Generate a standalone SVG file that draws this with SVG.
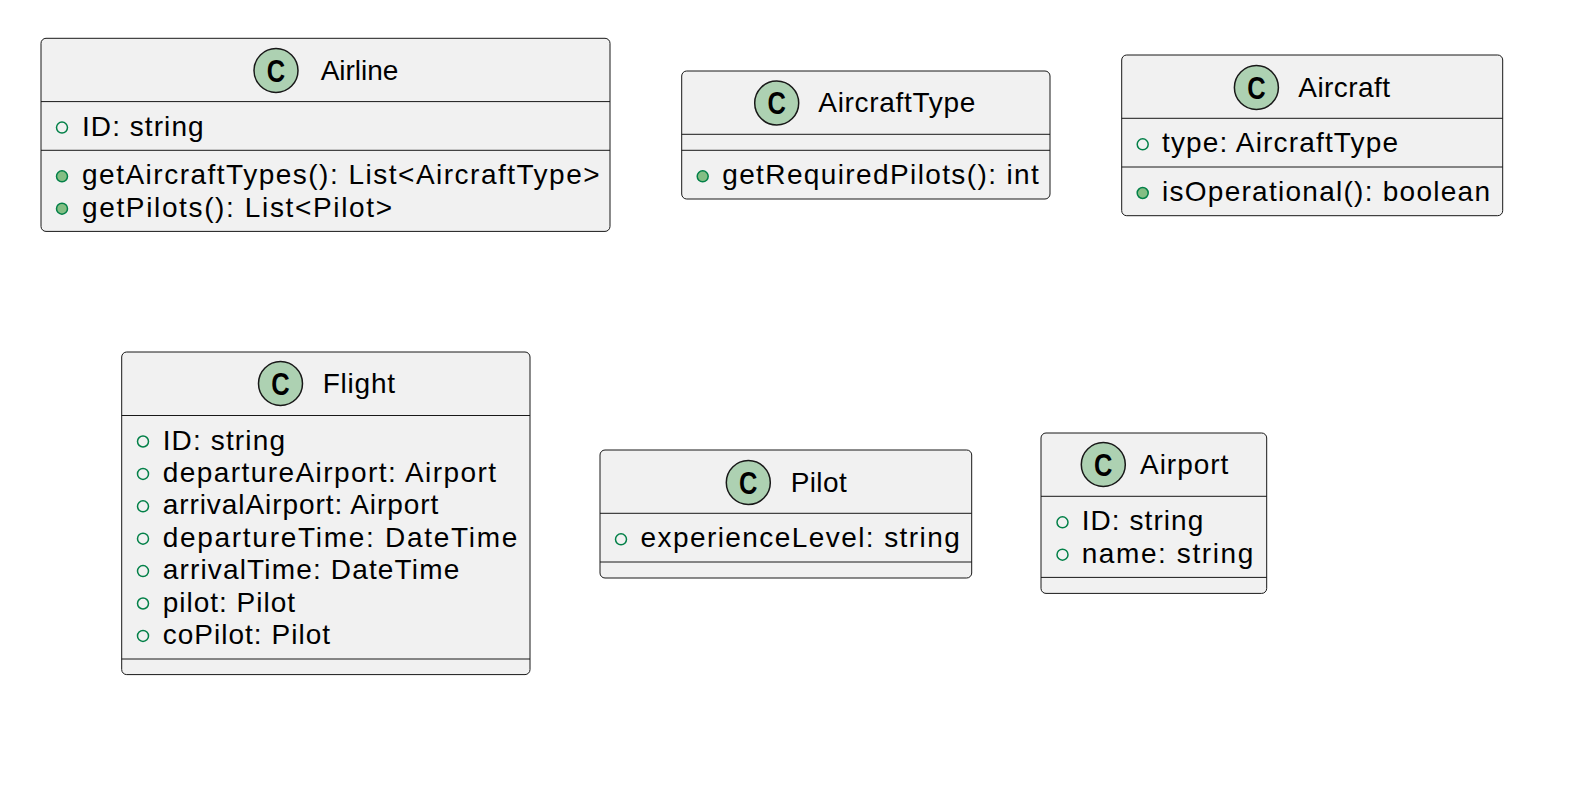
<svg xmlns="http://www.w3.org/2000/svg" width="1582" height="804" viewBox="0 0 1582 804">
<style>
.box{fill:#F1F1F1;stroke:#181818;stroke-width:1}
.div{stroke:#181818;stroke-width:1}
.spot{fill:#ADD1B2;stroke:#181818;stroke-width:1.5}
.C{font-family:"Liberation Sans",Arial,sans-serif;font-weight:bold;font-size:31px;fill:#000}
.t{font-family:"Liberation Sans",Arial,sans-serif;font-size:28px;fill:#000}
.fld{fill:none;stroke:#038048;stroke-width:1.5}
.mth{fill:#84BE84;stroke:#038048;stroke-width:1.5}
</style>
<rect width="1582" height="804" fill="#FFFFFF"/>
<g id="connectors"/>

<g id="Airline">
<rect class="box" x="41" y="38.3" width="569" height="193.1" rx="5"/>
<line class="div" x1="41" y1="101.6" x2="610" y2="101.6"/>
<line class="div" x1="41" y1="150.3" x2="610" y2="150.3"/>
<circle class="spot" cx="276" cy="70.5" r="22"/>
<text class="C" x="266.8" y="81.6" textLength="18.4" lengthAdjust="spacingAndGlyphs">C</text>
<text class="t" x="320.7" y="79.7" textLength="77.6" lengthAdjust="spacing">Airline</text>
<circle class="fld" cx="62" cy="127.6" r="5.5"/>
<text class="t" x="82" y="135.6" textLength="121.6" lengthAdjust="spacing">ID: string</text>
<circle class="mth" cx="62" cy="176.3" r="5.5"/>
<text class="t" x="82" y="184.3" textLength="517.6" lengthAdjust="spacing">getAircraftTypes(): List&lt;AircraftType&gt;</text>
<circle class="mth" cx="62" cy="208.7" r="5.5"/>
<text class="t" x="82" y="216.7" textLength="310" lengthAdjust="spacing">getPilots(): List&lt;Pilot&gt;</text>
</g>

<g id="AircraftType">
<rect class="box" x="681.7" y="71" width="368.3" height="128" rx="5"/>
<line class="div" x1="681.7" y1="134.3" x2="1050" y2="134.3"/>
<line class="div" x1="681.7" y1="150.3" x2="1050" y2="150.3"/>
<circle class="spot" cx="776.7" cy="103" r="22"/>
<text class="C" x="767.5" y="114.1" textLength="18.4" lengthAdjust="spacingAndGlyphs">C</text>
<text class="t" x="818.3" y="112" textLength="157" lengthAdjust="spacing">AircraftType</text>
<circle class="mth" cx="702.7" cy="176.3" r="5.5"/>
<text class="t" x="722.2" y="184.3" textLength="316.6" lengthAdjust="spacing">getRequiredPilots(): int</text>
</g>

<g id="Aircraft">
<rect class="box" x="1121.7" y="55" width="381" height="160.7" rx="5"/>
<line class="div" x1="1121.7" y1="118.3" x2="1502.7" y2="118.3"/>
<line class="div" x1="1121.7" y1="167" x2="1502.7" y2="167"/>
<circle class="spot" cx="1256.4" cy="87.5" r="22"/>
<text class="C" x="1247.2" y="98.6" textLength="18.4" lengthAdjust="spacingAndGlyphs">C</text>
<text class="t" x="1298.3" y="96.5" textLength="91.7" lengthAdjust="spacing">Aircraft</text>
<circle class="fld" cx="1142.7" cy="144.3" r="5.5"/>
<text class="t" x="1162" y="152.3" textLength="236" lengthAdjust="spacing">type: AircraftType</text>
<circle class="mth" cx="1142.7" cy="193" r="5.5"/>
<text class="t" x="1162" y="201" textLength="328" lengthAdjust="spacing">isOperational(): boolean</text>
</g>

<g id="Flight">
<rect class="box" x="121.7" y="352" width="408.3" height="322.6" rx="5"/>
<line class="div" x1="121.7" y1="415.5" x2="530" y2="415.5"/>
<line class="div" x1="121.7" y1="659" x2="530" y2="659"/>
<circle class="spot" cx="280.5" cy="383.5" r="22"/>
<text class="C" x="271.3" y="394.6" textLength="18.4" lengthAdjust="spacingAndGlyphs">C</text>
<text class="t" x="322.7" y="392.5" textLength="72.3" lengthAdjust="spacing">Flight</text>
<circle class="fld" cx="143" cy="441.5" r="5.5"/>
<text class="t" x="162.7" y="449.5" textLength="122.3" lengthAdjust="spacing">ID: string</text>
<circle class="fld" cx="143" cy="473.9" r="5.5"/>
<text class="t" x="162.7" y="481.9" textLength="333.3" lengthAdjust="spacing">departureAirport: Airport</text>
<circle class="fld" cx="143" cy="506.3" r="5.5"/>
<text class="t" x="162.7" y="514.3" textLength="275.6" lengthAdjust="spacing">arrivalAirport: Airport</text>
<circle class="fld" cx="143" cy="538.7" r="5.5"/>
<text class="t" x="162.7" y="546.7" textLength="354.6" lengthAdjust="spacing">departureTime: DateTime</text>
<circle class="fld" cx="143" cy="571.1" r="5.5"/>
<text class="t" x="162.7" y="579.1" textLength="296.6" lengthAdjust="spacing">arrivalTime: DateTime</text>
<circle class="fld" cx="143" cy="603.5" r="5.5"/>
<text class="t" x="162.7" y="611.5" textLength="132.3" lengthAdjust="spacing">pilot: Pilot</text>
<circle class="fld" cx="143" cy="635.9" r="5.5"/>
<text class="t" x="162.7" y="643.9" textLength="167.3" lengthAdjust="spacing">coPilot: Pilot</text>
</g>

<g id="Pilot">
<rect class="box" x="600" y="450" width="371.7" height="128" rx="5"/>
<line class="div" x1="600" y1="513.3" x2="971.7" y2="513.3"/>
<line class="div" x1="600" y1="562" x2="971.7" y2="562"/>
<circle class="spot" cx="748.3" cy="482.5" r="22"/>
<text class="C" x="739.1" y="493.6" textLength="18.4" lengthAdjust="spacingAndGlyphs">C</text>
<text class="t" x="790.7" y="491.5" textLength="56" lengthAdjust="spacing">Pilot</text>
<circle class="fld" cx="621" cy="539.3" r="5.5"/>
<text class="t" x="640.5" y="547.3" textLength="319.3" lengthAdjust="spacing">experienceLevel: string</text>
</g>

<g id="Airport">
<rect class="box" x="1041" y="433" width="225.7" height="160.4" rx="5"/>
<line class="div" x1="1041" y1="496.3" x2="1266.7" y2="496.3"/>
<line class="div" x1="1041" y1="577.4" x2="1266.7" y2="577.4"/>
<circle class="spot" cx="1103.3" cy="464.5" r="22"/>
<text class="C" x="1094.1" y="475.6" textLength="18.4" lengthAdjust="spacingAndGlyphs">C</text>
<text class="t" x="1140" y="473.5" textLength="88.3" lengthAdjust="spacing">Airport</text>
<circle class="fld" cx="1062.5" cy="522.3" r="5.5"/>
<text class="t" x="1081.7" y="530.3" textLength="121.6" lengthAdjust="spacing">ID: string</text>
<circle class="fld" cx="1062.5" cy="554.7" r="5.5"/>
<text class="t" x="1081.7" y="562.7" textLength="171.6" lengthAdjust="spacing">name: string</text>
</g>
</svg>
